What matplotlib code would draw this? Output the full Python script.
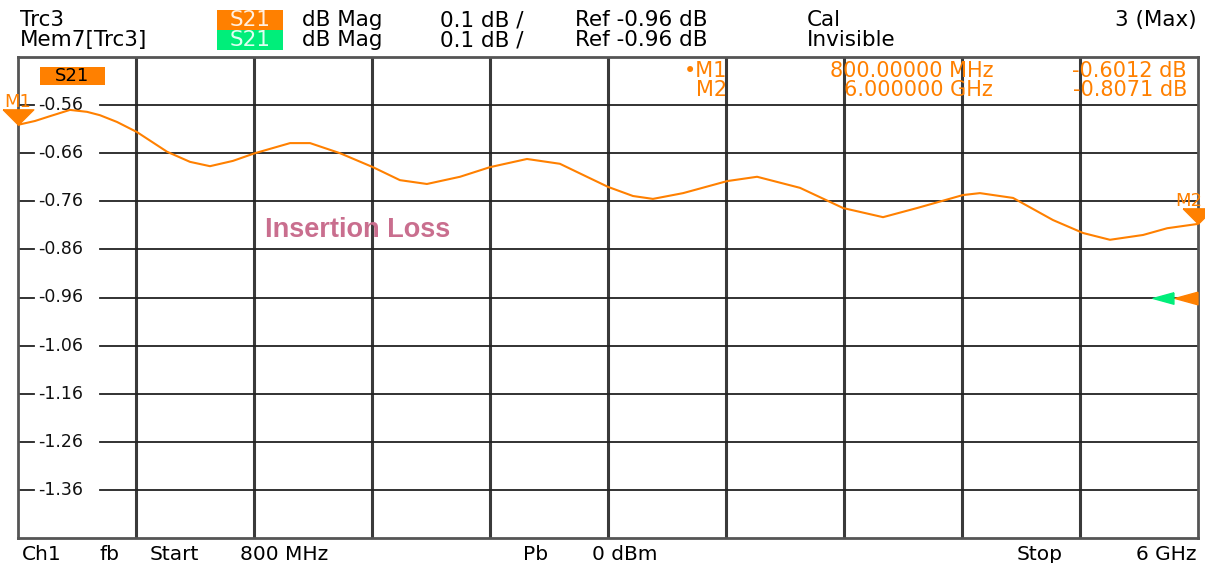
import numpy as np
import matplotlib.pyplot as plt
from matplotlib.patches import Rectangle
from matplotlib.path import Path
import matplotlib.transforms as mtransforms

freq_mhz = [800, 875, 941, 1029, 1104, 1161, 1236, 1324, 1457, 1558, 1646, 1747,
            1844, 1999, 2087, 2219, 2364, 2483, 2602, 2748, 2880, 3043, 3188,
            3307, 3400, 3510, 3598, 3731, 3925, 4057, 4246, 4436, 4612, 4762,
            4964, 5039, 5185, 5361, 5494, 5612, 5758, 5864, 6000]
s21_db = [-0.601, -0.593, -0.583, -0.570, -0.574, -0.581, -0.595, -0.616,
          -0.657, -0.678, -0.687, -0.676, -0.660, -0.639, -0.639, -0.660,
          -0.689, -0.716, -0.724, -0.709, -0.689, -0.672, -0.682, -0.709,
          -0.730, -0.749, -0.755, -0.743, -0.718, -0.709, -0.732, -0.774,
          -0.793, -0.774, -0.747, -0.743, -0.753, -0.799, -0.826, -0.840,
          -0.830, -0.816, -0.807]

# marcadores
marker_names = ['M1', 'M2']
marker_freq = [800, 6000]
marker_db = [-0.6012, -0.8071]
marker_freq_txt = ['800.00000 MHz', '6.000000 GHz']
marker_db_txt = ['-0.6012 dB', '-0.8071 dB']

ref_level = -0.96
y_ticks = [-0.56, -0.66, -0.76, -0.86, -0.96, -1.06, -1.16, -1.26, -1.36]
x_start, x_stop = 800, 6000
y_bottom, y_top = -1.46, -0.46

W, H = 1205, 563
orange = '#ff8000'
green = '#00ee7a'
plt.rcParams['font.family'] = ['DejaVu Sans']

def fx(px):
    return px / W

def fy(py):
    return 1 - py / H

fig = plt.figure(figsize=(W / 100, H / 100), dpi=100)
ax = fig.add_axes([fx(18), fy(538), 1180 / W, 481 / H])
ax.set_xlim(x_start, x_stop)
ax.set_ylim(y_bottom, y_top)
ax.set_xticks([])
ax.set_yticks([])
for s in ax.spines.values():
    s.set_color('#555555')
    s.set_linewidth(2)

# cuadricula vertical
for xv in np.linspace(x_start, x_stop, 11)[1:-1]:
    ax.axvline(xv, color='#3a3a3a', lw=2.2, zorder=1)

# cuadricula horizontal con hueco para las etiquetas
ytr = ax.get_yaxis_transform()
for yv in np.linspace(y_bottom, y_top, 11)[1:-1]:
    ax.plot([0, 0.0136], [yv, yv], color='#222222', lw=1.3, transform=ytr, zorder=1)
    ax.plot([0.0695, 1], [yv, yv], color='#222222', lw=1.3, transform=ytr, zorder=1)
for yv in y_ticks:
    ax.text(0.017, yv, f'{yv:.2f}', transform=ytr, ha='left',
            va='center', fontsize=12.5, color='#111111')

# traza
ax.plot(freq_mhz, s21_db, color=orange, lw=1.5, zorder=3)

# triangulos de marcadores
tri_down = Path([(-1, 0.5), (1, 0.5), (0, -0.5), (-1, 0.5)])
tri_left = Path([(1, 0.55), (1, -0.55), (-1, 0), (1, 0.55)])
up = mtransforms.offset_copy(ax.transData, fig=fig, x=0, y=8, units='dots')
for i, (name, f, d) in enumerate(zip(marker_names, marker_freq, marker_db)):
    ax.plot([f], [d], marker=tri_down, markersize=22, color=orange,
            transform=up, clip_on=False, zorder=5)
    lab = mtransforms.offset_copy(ax.transData, fig=fig, x=(-9 if i == 1 else 0),
                                  y=23, units='dots')
    ax.text(f, d, name, transform=lab, ha='center', va='center', fontsize=13,
            color=orange, clip_on=False)

# nivel de referencia
ref_or = mtransforms.offset_copy(ax.transData, fig=fig, x=-12, y=0, units='dots')
ref_gr = mtransforms.offset_copy(ax.transData, fig=fig, x=-35, y=0, units='dots')
ax.plot([x_stop], [ref_level], marker=tri_left, markersize=16.5, color=orange,
        transform=ref_or, clip_on=False, zorder=5)
ax.plot([x_stop], [ref_level], marker=tri_left, markersize=15, color=green,
        transform=ref_gr, clip_on=False, zorder=5)

# caja S21 dentro del grafico
fig.add_artist(Rectangle((fx(40), fy(85)), 65 / W, 18 / H, transform=fig.transFigure,
                         facecolor=orange, edgecolor='none'))
fig.text(fx(72), fy(76), 'S21', ha='center', va='center', fontsize=13, color='black')

# lecturas de marcadores
for i, (name, ft, dt) in enumerate(zip(marker_names, marker_freq_txt, marker_db_txt)):
    yy = fy(71 + 19 * i)
    fig.text(fx(727), yy, ('\u2022' if i == 0 else '') + name, ha='right', va='center',
             fontsize=15, color=orange)
    fig.text(fx(993), yy, ft, ha='right', va='center', fontsize=15, color=orange)
    fig.text(fx(1187), yy, dt, ha='right', va='center', fontsize=15, color=orange)

ax.text(fx(265), fy(230), 'Insertion Loss', transform=fig.transFigure, ha='left',
        va='center', fontsize=19.5, fontweight='bold', color='#c96e8e',
        family='Liberation Sans')

# cabecera
hs = 15.5
for row, (name, col) in enumerate([('Trc3', orange), ('Mem7[Trc3]', green)]):
    yy = fy(20 + 20 * row)
    fig.text(fx(20), yy, name, ha='left', va='center', fontsize=hs)
    fig.add_artist(Rectangle((fx(217), fy(30 + 20 * row)), 66 / W, 20 / H,
                             transform=fig.transFigure, facecolor=col, edgecolor='none'))
    fig.text(fx(250), yy, 'S21', ha='center', va='center', fontsize=hs,
             color='#fff0e0' if row == 0 else '#e0fff0')
    fig.text(fx(302), yy, 'dB Mag', ha='left', va='center', fontsize=hs)
    fig.text(fx(440), yy, '0.1 dB /', ha='left', va='center', fontsize=hs)
    fig.text(fx(575), yy, 'Ref -0.96 dB', ha='left', va='center', fontsize=hs)
    fig.text(fx(807), yy, 'Cal' if row == 0 else 'Invisible', ha='left', va='center',
             fontsize=hs)
fig.text(fx(1197), fy(20), '3 (Max)', ha='right', va='center', fontsize=hs)

# pie
yb = fy(554)
for txt, px in [('Ch1', 22), ('fb', 100), ('Start', 150), ('800 MHz', 240),
                ('Pb', 523), ('0 dBm', 592), ('Stop', 1017)]:
    fig.text(fx(px), yb, txt, ha='left', va='center', fontsize=14.5)
fig.text(fx(1197), yb, '6 GHz', ha='right', va='center', fontsize=14.5)

plt.savefig('out.png', dpi=100)
